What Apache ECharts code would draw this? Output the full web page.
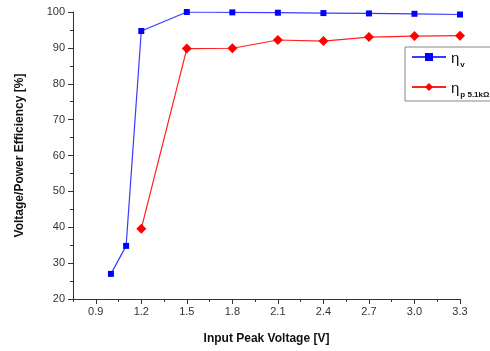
<!DOCTYPE html>
<html><head><meta charset="utf-8">
<script src="https://cdn.jsdelivr.net/npm/echarts@6/dist/echarts.min.js"></script>
<style>html,body{margin:0;padding:0;background:#fff}#c{width:490px;height:351px}</style>
</head><body><div id="c"></div>
<script>
const xValues = [1.0, 1.1, 1.2, 1.5, 1.8, 2.1, 2.4, 2.7, 3.0, 3.3];
const etaV = [27, 34.8, 94.7, 100, 99.9, 99.8, 99.7, 99.6, 99.5, 99.3];
const xValuesP = [1.2, 1.5, 1.8, 2.1, 2.4, 2.7, 3.0, 3.3];
const etaP = [39.6, 89.8, 89.9, 92.2, 91.9, 93.0, 93.3, 93.4];
const xTickLabels = [0.9, 1.2, 1.5, 1.8, 2.1, 2.4, 2.7, 3.0, 3.3];
const seriesNames = ['eta_v', 'eta_p'];

const chart = echarts.init(document.getElementById('c'));
const font = 'Liberation Sans, Arial, sans-serif';
chart.setOption({
  animation: false,
  grid: {left: 73, right: 30, top: 12, bottom: 52},
  xAxis: [{
    type: 'value', min: 0.75, max: 3.3,
    name: 'Input Peak Voltage [V]', nameLocation: 'middle', nameGap: 34,
    nameTextStyle: {fontFamily: font, fontWeight: 'bold', fontSize: 12, color: '#111'},
    axisLine: {show: true, lineStyle: {color: '#333', width: 1}},
    axisTick: {show: true, length: 5, customValues: xTickLabels, lineStyle: {color: '#333'}},
    axisLabel: {customValues: xTickLabels, fontFamily: font, fontSize: 11, color: '#333', margin: 7,
      formatter: v => v.toFixed(1)},
    splitLine: {show: false}
  }, {
    type: 'value', min: 0.75, max: 3.3, interval: 0.15, position: 'bottom',
    axisLine: {show: false},
    axisTick: {show: true, length: 3, lineStyle: {color: '#333'}},
    axisLabel: {show: false}, splitLine: {show: false}
  }],
  yAxis: {
    type: 'value', min: 20, max: 100, interval: 10,
    name: 'Voltage/Power Efficiency [%]', nameLocation: 'middle', nameGap: 47,
    nameTextStyle: {fontFamily: font, fontWeight: 'bold', fontSize: 12, color: '#111'},
    axisLine: {show: true, lineStyle: {color: '#333', width: 1}},
    axisTick: {show: true, length: 5, lineStyle: {color: '#333'}},
    minorTick: {show: true, splitNumber: 2, length: 3, lineStyle: {color: '#333'}},
    axisLabel: {fontFamily: font, fontSize: 11, color: '#333', margin: 8},
    splitLine: {show: false}
  },
  legend: {
    left: 405, top: 47, orient: 'vertical', itemWidth: 34, itemHeight: 10, itemGap: 12,
    borderColor: '#888', borderWidth: 1, padding: [4, 30, 2, 6],
    formatter: n => n === 'eta_v' ? '{e|η}{s|v}' : '{e|η}{s|p 5.1kΩ}',
    textStyle: {fontFamily: font, color: '#111', rich: {
      e: {fontSize: 15, fontFamily: font, verticalAlign: 'bottom', lineHeight: 18},
      s: {fontSize: 8, fontWeight: 'bold', fontFamily: font, verticalAlign: 'bottom', lineHeight: 12, padding: [0,0,-3,1]}
    }},
    data: seriesNames
  },
  series: [{
    name: seriesNames[0], type: 'line', xAxisIndex: 0,
    data: xValues.map((x, i) => [x, etaV[i]]),
    symbol: 'rect', symbolSize: 6,
    lineStyle: {color: '#3a3aff', width: 1.2}, itemStyle: {color: '#0000ff'}
  }, {
    name: seriesNames[1], type: 'line', xAxisIndex: 0,
    data: xValuesP.map((x, i) => [x, etaP[i]]),
    symbol: 'diamond', symbolSize: 10,
    lineStyle: {color: '#ff2020', width: 1.2}, itemStyle: {color: '#ff0000'}
  }]
});
</script></body></html>
